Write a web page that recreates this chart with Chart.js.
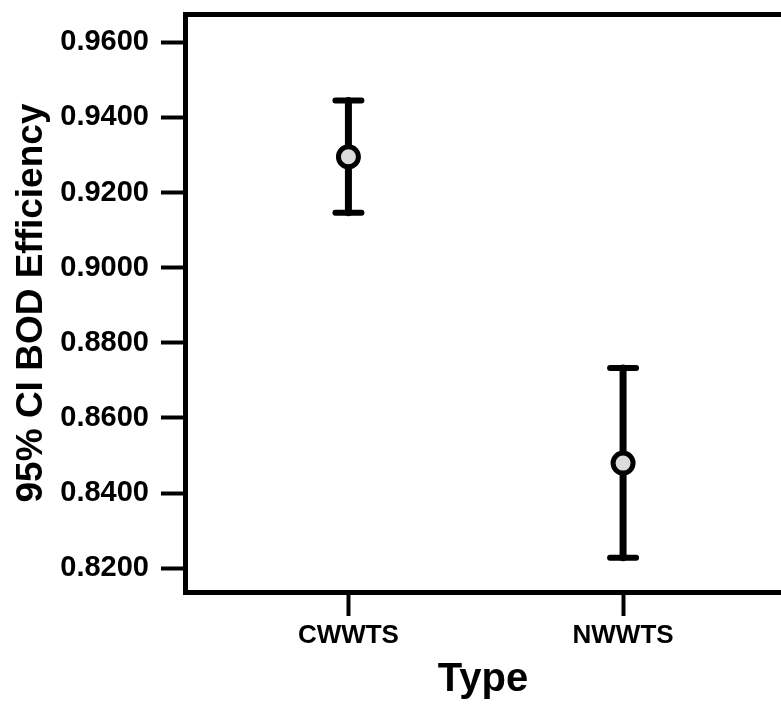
<!DOCTYPE html>
<html>
<head>
<meta charset="utf-8">
<script src="https://cdn.jsdelivr.net/npm/chart.js@4/dist/chart.umd.min.js"></script>
<style>
  html, body { margin: 0; padding: 0; background: #fff; overflow: hidden; }
  #wrap { width: 781px; height: 704px; position: relative; }
</style>
</head>
<body>
<div id="wrap"><canvas id="c"></canvas></div>
<script>
// ---- data ----
const categories = ['CWWTS', 'NWWTS'];
const means = [0.9295, 0.8480];
const lowerCI = [0.9146, 0.8228];
const upperCI = [0.9445, 0.8733];
const yTicks = [0.82, 0.84, 0.86, 0.88, 0.90, 0.92, 0.94, 0.96];
const yTitle = '95% CI BOD Efficiency';
const xTitle = 'Type';

Chart.defaults.color = '#000';
Chart.defaults.font.family = '"Liberation Sans", Arial, sans-serif';

const errorBars = {
  id: 'errorBars',
  beforeDatasetsDraw(chart) {
    const { ctx, scales: { x, y } } = chart;
    ctx.save();
    ctx.strokeStyle = '#000';
    ctx.lineCap = 'round';
    categories.forEach((c, i) => {
      const px = x.getPixelForValue(i + 1);
      const yl = y.getPixelForValue(lowerCI[i]);
      const yu = y.getPixelForValue(upperCI[i]);
      ctx.lineWidth = 7;
      ctx.beginPath();
      ctx.moveTo(px, yu);
      ctx.lineTo(px, yl);
      ctx.stroke();
      ctx.lineWidth = 6;
      ctx.beginPath();
      ctx.moveTo(px - 13, yu); ctx.lineTo(px + 13, yu);
      ctx.moveTo(px - 13, yl); ctx.lineTo(px + 13, yl);
      ctx.stroke();
    });
    ctx.restore();
  }
};

new Chart(document.getElementById('c'), {
  type: 'scatter',
  data: {
    datasets: [{
      data: categories.map((c, i) => ({ x: i + 1, y: means[i] })),
      pointRadius: 10,
      pointHoverRadius: 10,
      pointBorderWidth: 5,
      pointBorderColor: '#000',
      pointBackgroundColor: '#dcdcdc'
    }]
  },
  options: {
    responsive: true,
    maintainAspectRatio: false,
    animation: false,
    events: [],
    layout: { autoPadding: false, padding: { top: 14, left: 0, right: 0, bottom: 0 } },
    plugins: { legend: { display: false }, tooltip: { enabled: false } },
    scales: {
      x: {
        type: 'linear',
        position: 'bottom',
        min: 0.405,
        max: 2.575,
        afterBuildTicks(scale) { scale.ticks = categories.map((c, i) => ({ value: i + 1 })); },
        afterFit(scale) { scale.height = 112; scale.paddingLeft = 0; scale.paddingRight = 0; },
        ticks: {
          callback: (v) => categories[Math.round(v) - 1],
          font: { size: 26, weight: 'bold' },
          padding: 4,
          maxRotation: 0,
          autoSkip: false
        },
        grid: { drawOnChartArea: false, drawTicks: true, tickLength: 24, tickWidth: 4, tickColor: '#000' },
        border: { display: true, color: '#000', width: 5 },
        title: { display: true, text: xTitle, font: { size: 40, weight: 'bold' }, padding: { top: 0, bottom: 0 } }
      },
      top: {
        type: 'linear',
        position: 'top',
        display: true,
        afterFit(scale) { scale.height = 0; scale.paddingLeft = 0; scale.paddingRight = 0; },
        ticks: { display: false },
        grid: { display: false, drawTicks: false },
        border: { display: true, color: '#000', width: 5 }
      },
      y: {
        type: 'linear',
        min: 0.8137,
        max: 0.9675,
        afterBuildTicks(scale) { scale.ticks = yTicks.map(v => ({ value: v })); },
        afterFit(scale) { scale.width = 185; scale.paddingTop = 0; scale.paddingBottom = 0; },
        ticks: {
          callback: (v) => Number(v).toFixed(4),
          font: { size: 29, weight: 'bold' },
          padding: 12,
          autoSkip: false
        },
        grid: { drawOnChartArea: false, drawTicks: true, tickLength: 24, tickWidth: 4, tickColor: '#000' },
        border: { display: true, color: '#000', width: 5 },
        title: { display: true, text: yTitle, font: { size: 37, weight: 'bold' }, padding: { top: 10, bottom: 0 } }
      }
    }
  },
  plugins: [errorBars]
});
</script>
</body>
</html>
